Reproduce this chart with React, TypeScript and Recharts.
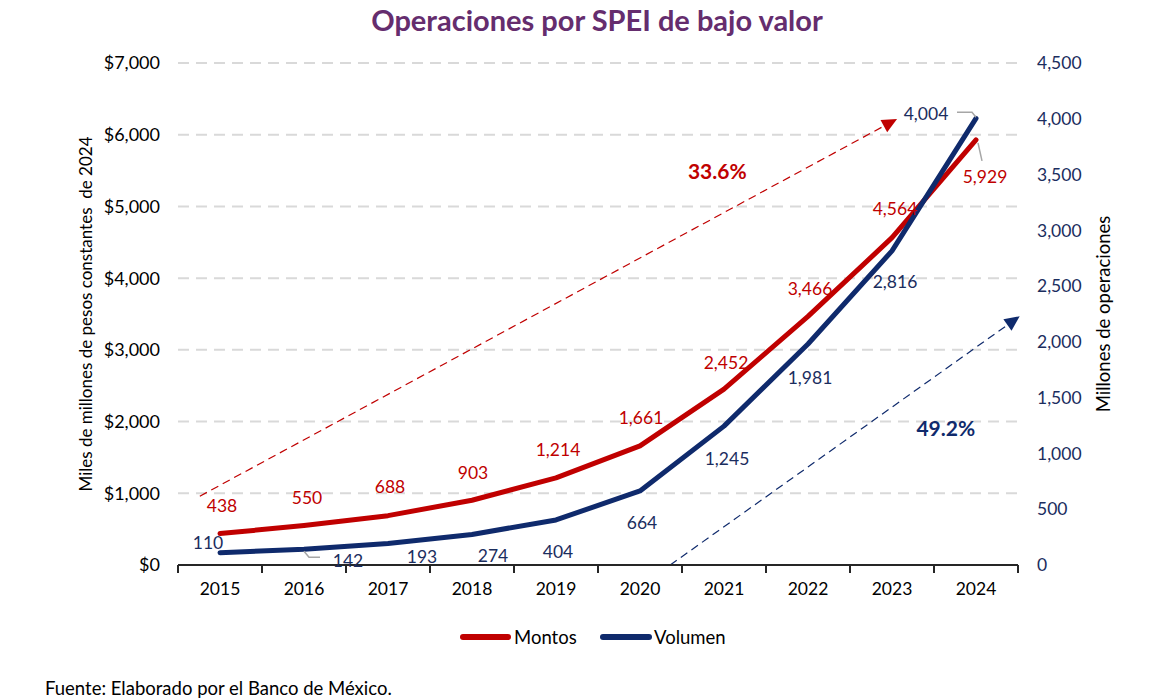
import React from 'react';
import {
  ComposedChart,
  Line,
  XAxis,
  YAxis,
  CartesianGrid,
  LabelList,
  ReferenceLine,
  ReferenceDot,
} from 'recharts';

// ---------- data ----------
const years = [2015, 2016, 2017, 2018, 2019, 2020, 2021, 2022, 2023, 2024];
const montos = [438, 550, 688, 903, 1214, 1661, 2452, 3466, 4564, 5929];
const volumen = [110, 142, 193, 274, 404, 664, 1245, 1981, 2816, 4004];
const leftTicks = [0, 1000, 2000, 3000, 4000, 5000, 6000, 7000];
const rightTicks = [0, 500, 1000, 1500, 2000, 2500, 3000, 3500, 4000, 4500];
const yearEdges = [2014.5, 2015.5, 2016.5, 2017.5, 2018.5, 2019.5, 2020.5, 2021.5, 2022.5, 2023.5, 2024.5];
const growthMontos = '33.6%';
const growthVolumen = '49.2%';

const data = years.map((year, i) => ({ year, montos: montos[i], volumen: volumen[i] }));

// ---------- styles / layout ----------
const FONT = 'Lato, "Open Sans", "DejaVu Sans", sans-serif';
const RED = '#C00000';
const NAVY = '#0F2A6C';
const NAVY_TEXT = '#1B2D5E';
const GRAY_LEADER = '#A6A6A6';

const PLOT_TOP = 63;
const PLOT_HEIGHT = 502;

// label offsets relative to the point (pixels)
const redOffsets: [number, number][] = [
  [2, -28], [3, -28], [2, -29], [1, -28], [2, -28], [1, -28], [2, -27], [2, -28], [3, -29], [9, 37],
];
const navyOffsets: [number, number][] = [
  [-12, -10], [44, 11], [34, 13], [21, 21], [2, 32], [2, 32], [3, 32], [2, 33], [3, 31], [-50, -5],
];
const redLeaders: Record<number, [number, number][]> = { 9: [[2, 3], [6, 21]] };
const navyLeaders: Record<number, [number, number][]> = {
  1: [[0, 2], [5, 8], [16, 8]],
  9: [[-19, -6], [-4, -6], [0, -1]],
};

const fmt = (v: number) => v.toLocaleString('en-US');

const makeLabel = (
  color: string,
  offsets: [number, number][],
  leaders: Record<number, [number, number][]>,
) => (props: any) => {
  const vb = props.viewBox || {};
  const x = typeof props.x === 'number' ? props.x : vb.x;
  const y = typeof props.y === 'number' ? props.y : vb.y;
  const index = props.index;
  const value = props.value;
  if (x == null || y == null || index == null) return null;
  const [dx, dy] = offsets[index] || [0, -28];
  const leader = leaders[index];
  return (
    <g>
      {leader && (
        <polyline
          points={leader.map(([lx, ly]) => `${x + lx},${y + ly}`).join(' ')}
          fill="none"
          stroke={GRAY_LEADER}
          strokeWidth={1.5}
        />
      )}
      <text
        x={x + dx}
        y={y + dy}
        textAnchor="middle"
        dominantBaseline="central"
        fontSize={17.5}
        fontFamily={FONT}
        fill={color}
      >
        {fmt(Number(value))}
      </text>
    </g>
  );
};

const XTick = (props: any) => {
  const { x, y, payload, width } = props;
  const year = Number(payload.value) + 0.5;
  if (year > years[years.length - 1]) return null;
  const band = (typeof width === 'number' && width > 0 ? width : 840) / years.length;
  return (
    <text
      x={x + band / 2}
      y={y}
      dy="0.71em"
      textAnchor="middle"
      fontSize={17.5}
      fontFamily={FONT}
      fill="#000"
    >
      {year}
    </text>
  );
};

const makeArrow = (color: string) => (props: any) => {
  const { x1, y1, x2, y2 } = props;
  if ([x1, y1, x2, y2].some((v) => typeof v !== 'number' || isNaN(v))) return null;
  const ang = Math.atan2(y2 - y1, x2 - x1);
  const L = 15;
  const W = 7;
  const c = Math.cos(ang);
  const s = Math.sin(ang);
  const bx = x2 - L * c;
  const by = y2 - L * s;
  const p1 = `${bx - W * s},${by + W * c}`;
  const p2 = `${bx + W * s},${by - W * c}`;
  return (
    <g>
      <line x1={x1} y1={y1} x2={bx} y2={by} stroke={color} strokeWidth={1.2} strokeDasharray="8 5" />
      <polygon points={`${x2},${y2} ${p1} ${p2}`} fill={color} />
    </g>
  );
};

const LeftTitle = (props: any) => {
  const vb = props.viewBox || {};
  const cx = (typeof vb.x === 'number' ? vb.x : 78) + 7;
  const cy = PLOT_TOP + PLOT_HEIGHT / 2;
  return (
    <text
      x={cx}
      y={cy}
      transform={`rotate(-90 ${cx} ${cy})`}
      textAnchor="middle"
      dominantBaseline="central"
      fontSize={17}
      fontFamily={FONT}
      fill="#000"
      style={{ whiteSpace: 'pre' }}
    >
      {'Miles de millones de pesos constantes  de 2024'}
    </text>
  );
};

const RightTitle = (props: any) => {
  const vb = props.viewBox || {};
  const cx = (typeof vb.x === 'number' ? vb.x : 1018) + 85;
  const cy = PLOT_TOP + PLOT_HEIGHT / 2;
  return (
    <text
      x={cx}
      y={cy}
      transform={`rotate(-90 ${cx} ${cy})`}
      textAnchor="middle"
      dominantBaseline="central"
      fontSize={18.5}
      fontFamily={FONT}
      fill="#000"
    >
      Millones de operaciones
    </text>
  );
};

export default function App() {
  return (
    <div
      style={{
        position: 'absolute',
        left: 0,
        top: 0,
        width: 1160,
        height: 700,
        background: '#fff',
        fontFamily: FONT,
        overflow: 'hidden',
      }}
    >
      <div
        style={{
          position: 'absolute',
          left: 597,
          top: 0,
          transform: 'translateX(-50%)',
          whiteSpace: 'nowrap',
          fontSize: 29,
          lineHeight: '40px',
          fontWeight: 700,
          color: '#652D6E',
        }}
      >
        Operaciones por SPEI de bajo valor
      </div>

      <div style={{ position: 'absolute', left: 0, top: 0 }}>
        <ComposedChart
          width={1160}
          height={700}
          data={data}
          margin={{ top: PLOT_TOP, right: 62, bottom: 105, left: 78 }}
        >
          <CartesianGrid
            yAxisId="left"
            vertical={false}
            stroke="#D9D9D9"
            strokeWidth={2}
            strokeDasharray="11 7"
          />
          <XAxis
            dataKey="year"
            type="number"
            domain={[2014.5, 2024.5]}
            ticks={yearEdges}
            interval={0}
            allowDataOverflow
            height={30}
            tickSize={8}
            tickMargin={10}
            axisLine={{ stroke: '#262626', strokeWidth: 2 }}
            tickLine={{ stroke: '#262626', strokeWidth: 2 }}
            tick={<XTick />}
          />
          <YAxis
            yAxisId="left"
            orientation="left"
            domain={[0, 7000]}
            ticks={leftTicks}
            interval={0}
            width={100}
            axisLine={false}
            tickLine={false}
            tickSize={6}
            tickMargin={12}
            tickFormatter={(v: number) => `$${fmt(v)}`}
            tick={{ fontSize: 18, fill: '#000', fontFamily: FONT }}
            label={LeftTitle}
          />
          <YAxis
            yAxisId="right"
            orientation="right"
            domain={[0, 4500]}
            ticks={rightTicks}
            interval={0}
            width={80}
            axisLine={false}
            tickLine={false}
            tickSize={6}
            tickMargin={13}
            tickFormatter={(v: number) => fmt(v)}
            tick={{ fontSize: 17.5, fill: NAVY_TEXT, fontFamily: FONT }}
            label={RightTitle}
          />

          <ReferenceLine
            yAxisId="left"
            ifOverflow="visible"
            segment={[
              { x: 2014.76, y: 960 },
              { x: 2023.06, y: 6220 },
            ]}
            shape={makeArrow(RED)}
          />
          <ReferenceLine
            yAxisId="right"
            ifOverflow="visible"
            segment={[
              { x: 2020.36, y: 0 },
              { x: 2024.52, y: 2230 },
            ]}
            shape={makeArrow(NAVY)}
          />
          <ReferenceDot
            yAxisId="left"
            x={2020.92}
            y={5480}
            r={0}
            fill="none"
            stroke="none"
            ifOverflow="visible"
            label={{
              value: growthMontos,
              position: 'center',
              fill: RED,
              fontSize: 21,
              fontWeight: 700,
              fontFamily: FONT,
            }}
          />
          <ReferenceDot
            yAxisId="right"
            x={2023.64}
            y={1219}
            r={0}
            fill="none"
            stroke="none"
            ifOverflow="visible"
            label={{
              value: growthVolumen,
              position: 'center',
              fill: NAVY,
              fontSize: 21,
              fontWeight: 700,
              fontFamily: FONT,
            }}
          />

          <Line
            yAxisId="left"
            dataKey="montos"
            name="Montos"
            type="linear"
            stroke={RED}
            strokeWidth={5}
            strokeLinecap="round"
            strokeLinejoin="round"
            dot={false}
            activeDot={false}
            isAnimationActive={false}
          >
            <LabelList dataKey="montos" content={makeLabel(RED, redOffsets, redLeaders)} />
          </Line>
          <Line
            yAxisId="right"
            dataKey="volumen"
            name="Volumen"
            type="linear"
            stroke={NAVY}
            strokeWidth={5}
            strokeLinecap="round"
            strokeLinejoin="round"
            dot={false}
            activeDot={false}
            isAnimationActive={false}
          >
            <LabelList dataKey="volumen" content={makeLabel(NAVY_TEXT, navyOffsets, navyLeaders)} />
          </Line>
        </ComposedChart>
      </div>

      {/* legend */}
      <div style={{ position: 'absolute', left: 460, top: 634, width: 51, height: 6, borderRadius: 3, background: RED }} />
      <div style={{ position: 'absolute', left: 514, top: 625, fontSize: 18.5, lineHeight: '24px', color: '#000' }}>Montos</div>
      <div style={{ position: 'absolute', left: 600, top: 634, width: 52, height: 6, borderRadius: 3, background: NAVY }} />
      <div style={{ position: 'absolute', left: 654, top: 625, fontSize: 18.5, lineHeight: '24px', color: '#000' }}>Volumen</div>

      <div style={{ position: 'absolute', left: 45, top: 676, fontSize: 18.5, lineHeight: '24px', color: '#000', whiteSpace: 'nowrap' }}>
        Fuente: Elaborado por el Banco de México.
      </div>
    </div>
  );
}
